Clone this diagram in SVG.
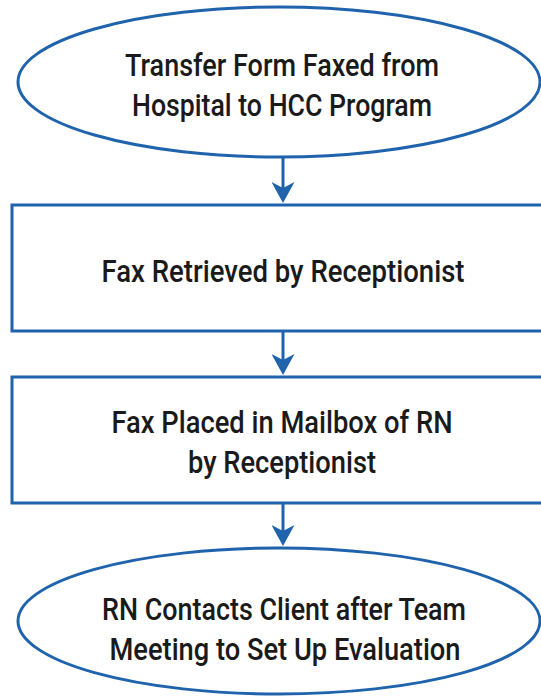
<svg xmlns="http://www.w3.org/2000/svg" width="541" height="696" viewBox="0 0 541 696">
  <style>
    .shape { fill: #ffffff; stroke: #1f63ad; stroke-width: 3; }
    .conn { stroke: #1f63ad; stroke-width: 3; fill: none; }
    .lbl { font-family: Roboto, "Liberation Sans", Arial, sans-serif; font-weight: 500; font-size: 32px; fill: #1a1a1a; text-anchor: middle; }
  </style>
  <defs>
    <marker id="arrow" viewBox="0 0 21 23" refX="9" refY="11.5" markerWidth="21" markerHeight="23" markerUnits="userSpaceOnUse" orient="auto">
      <path d="M0,0 L21,11.5 L0,23 L6,11.5 Z" fill="#1f63ad"/>
    </marker>
  </defs>
  <rect width="541" height="696" fill="#ffffff"/>

  <g id="connectors">
    <line class="conn" x1="283" y1="157" x2="283" y2="191" marker-end="url(#arrow)"/>
    <line class="conn" x1="283" y1="332" x2="283" y2="363" marker-end="url(#arrow)"/>
    <line class="conn" x1="283" y1="503" x2="283" y2="534" marker-end="url(#arrow)"/>
  </g>

  <g id="node-transfer">
    <ellipse class="shape" cx="279" cy="82" rx="261" ry="75"/>
    <text class="lbl" x="282" y="76" textLength="314" lengthAdjust="spacingAndGlyphs">Transfer Form Faxed from</text>
    <text class="lbl" x="282" y="116" textLength="300" lengthAdjust="spacingAndGlyphs">Hospital to HCC Program</text>
  </g>

  <g id="node-retrieved">
    <rect class="shape" x="12" y="205" width="545" height="126"/>
    <text class="lbl" x="283" y="282" textLength="363" lengthAdjust="spacingAndGlyphs">Fax Retrieved by Receptionist</text>
  </g>

  <g id="node-placed">
    <rect class="shape" x="12" y="377" width="545" height="126"/>
    <text class="lbl" x="282" y="433" textLength="341" lengthAdjust="spacingAndGlyphs">Fax Placed in Mailbox of RN</text>
    <text class="lbl" x="282" y="473" textLength="188" lengthAdjust="spacingAndGlyphs">by Receptionist</text>
  </g>

  <g id="node-contacts">
    <ellipse class="shape" cx="279" cy="621" rx="261" ry="73"/>
    <text class="lbl" x="284" y="620" textLength="364" lengthAdjust="spacingAndGlyphs">RN Contacts Client after Team</text>
    <text class="lbl" x="285" y="660" textLength="351" lengthAdjust="spacingAndGlyphs">Meeting to Set Up Evaluation</text>
  </g>
</svg>
